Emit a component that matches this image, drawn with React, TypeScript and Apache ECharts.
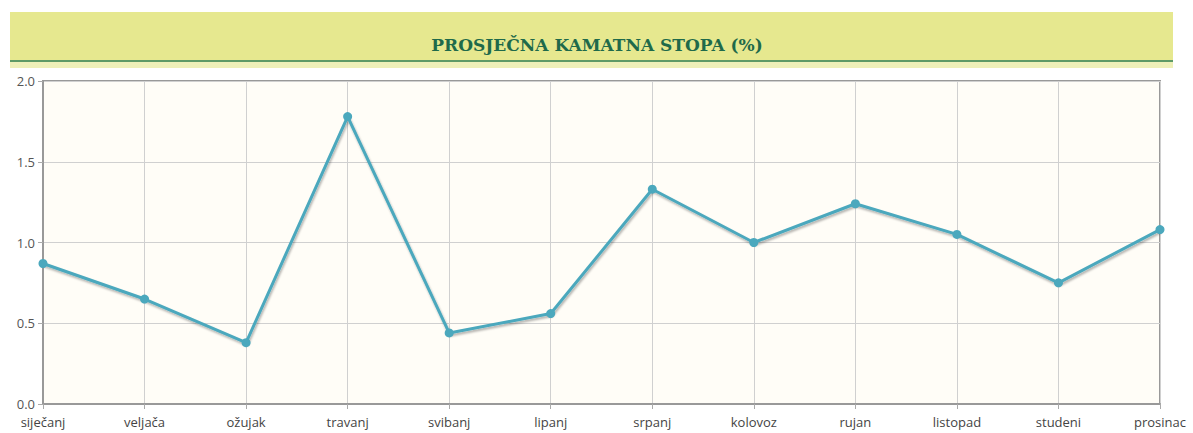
import React, { useEffect, useRef } from "react";
import * as echarts from "echarts";

const titleText = "PROSJEČNA KAMATNA STOPA (%)";
const months = ["siječanj", "veljača", "ožujak", "travanj", "svibanj", "lipanj", "srpanj", "kolovoz", "rujan", "listopad", "studeni", "prosinac"];
const rates = [0.87, 0.65, 0.38, 1.78, 0.44, 0.56, 1.33, 1.0, 1.24, 1.05, 0.75, 1.08];

export default function App() {
  const ref = useRef<HTMLDivElement>(null);
  useEffect(() => {
    if (!ref.current) return;
    const chart = echarts.init(ref.current, null, { renderer: "svg" });
    chart.setOption({
      animation: false,
      backgroundColor: "#ffffff",
      graphic: [
        { type: "rect", shape: { x: 10, y: 12, width: 1163, height: 56 }, style: { fill: "#e6e88f" }, z: -1 },
        { type: "rect", shape: { x: 10, y: 60, width: 1163, height: 2 }, style: { fill: "#5e9a66" }, z: 0 },
        { type: "rect", shape: { x: 10, y: 62, width: 1163, height: 6 }, style: { fill: "#eef0b8" }, z: 0 },
        {
          type: "text",
          x: 597,
          y: 45,
          style: {
            text: titleText,
            fill: "#1f6a4a",
            font: "bold 17px 'DejaVu Serif', serif",
            align: "center",
            verticalAlign: "middle",
          },
          z: 1,
        },
      ],
      grid: {
        left: 43,
        right: 33,
        top: 81,
        bottom: 29,
        show: true,
        backgroundColor: "#fffdf7",
        borderColor: "#999",
        borderWidth: 2,
      },
      xAxis: {
        type: "category",
        data: months,
        boundaryGap: false,
        axisLine: { lineStyle: { color: "#999", width: 2 } },
        axisTick: { show: true, alignWithLabel: true, length: 5, lineStyle: { color: "#aaa" } },
        axisLabel: { color: "#444", fontFamily: "'Open Sans', sans-serif", fontSize: 13, margin: 11, interval: 0 },
        splitLine: { show: true, lineStyle: { color: "#d0d0d0", width: 1 } },
      },
      yAxis: {
        type: "value",
        min: 0,
        max: 2,
        interval: 0.5,
        axisLine: { show: true, lineStyle: { color: "#999", width: 2 } },
        axisTick: { show: true, length: 5, lineStyle: { color: "#aaa" } },
        axisLabel: {
          color: "#555",
          fontFamily: "'Open Sans', sans-serif",
          fontSize: 13,
          margin: 8,
          formatter: (v: number) => v.toFixed(1),
        },
        splitLine: { show: true, lineStyle: { color: "#d0d0d0", width: 1 } },
      },
      series: [
        {
          type: "line",
          data: rates,
          symbol: "circle",
          symbolSize: 9,
          itemStyle: { color: "#4ba8bd" },
          lineStyle: {
            color: "#4ba8bd",
            width: 3,
            shadowColor: "rgba(0,0,0,0.3)",
            shadowOffsetX: 1,
            shadowOffsetY: 2,
            shadowBlur: 2,
          },
        },
      ],
    });
    return () => chart.dispose();
  }, []);
  return <div ref={ref} style={{ position: "fixed", left: 0, top: 0, width: 1193, height: 433 }} />;
}
